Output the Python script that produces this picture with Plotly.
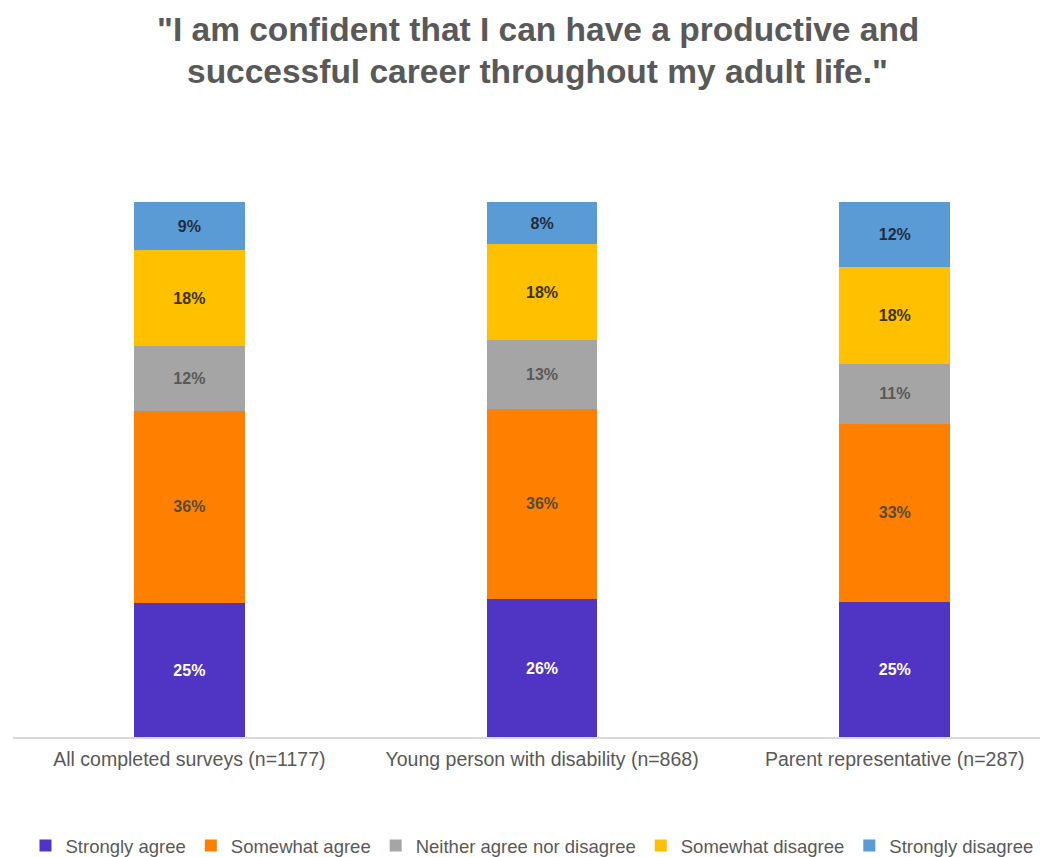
import plotly.graph_objects as go

categories = ["All completed surveys (n=1177)", "Young person with disability (n=868)", "Parent representative (n=287)"]
series_names = ["Strongly agree", "Somewhat agree", "Neither agree nor disagree", "Somewhat disagree", "Strongly disagree"]
strongly_agree = [25, 26, 25]
somewhat_agree = [36, 36, 33]
neither = [12, 13, 11]
somewhat_disagree = [18, 18, 18]
strongly_disagree = [9, 8, 12]
title_lines = ["\"I am confident that I can have a productive and",
               "successful career throughout my adult life.\""]

series_values = [strongly_agree, somewhat_agree, neither, somewhat_disagree, strongly_disagree]
colors = ["#5035C4", "#FF8000", "#A5A5A5", "#FFC000", "#5B9BD5"]
text_colors = ["#FFFFFF", "#5A4A3A", "#595959", "#3D3300", "#1F2D3D"]

fig = go.Figure()
for name, vals, c, tc in zip(series_names, series_values, colors, text_colors):
    fig.add_trace(go.Bar(
        x=categories, y=vals, name=name,
        marker=dict(color=c, line=dict(width=0)),
        text=[f"{v}%" for v in vals],
        textposition="inside", insidetextanchor="middle",
        textfont=dict(color=tc, size=16, family="Liberation Sans"),
        texttemplate="<b>%{text}</b>",
        constraintext="none",
    ))

for line, yy in zip(title_lines, [1.322, 1.244]):
    fig.add_annotation(
        text=f"<b>{line}</b>", xref="paper", yref="paper", x=0.503, y=yy,
        xanchor="center", yanchor="middle", showarrow=False,
        font=dict(family="Liberation Sans", size=33.5, color="#595959"),
    )

fig.update_layout(
    barmode="stack", barnorm="percent",
    width=1048, height=857,
    paper_bgcolor="white", plot_bgcolor="white",
    margin=dict(l=5, r=0, t=194, b=128, autoexpand=False),
    bargap=0.686,
    font=dict(family="Liberation Sans", color="#595959"),
    xaxis=dict(
        range=[-0.5, 2.457], showline=True, linecolor="#D9D9D9", linewidth=2,
        ticks="", tickfont=dict(size=19.5, color="#595959"), showgrid=False,
        ticklabelstandoff=4, automargin=False,
    ),
    yaxis=dict(range=[0, 100], visible=False, showgrid=False),
    legend=dict(
        orientation="h", x=0.5, xanchor="center", xref="container",
        y=0.0, yanchor="bottom", yref="container",
        font=dict(size=18.5, color="#595959"), traceorder="normal",
        itemwidth=30,
    ),
)

fig.write_html("out.html")
